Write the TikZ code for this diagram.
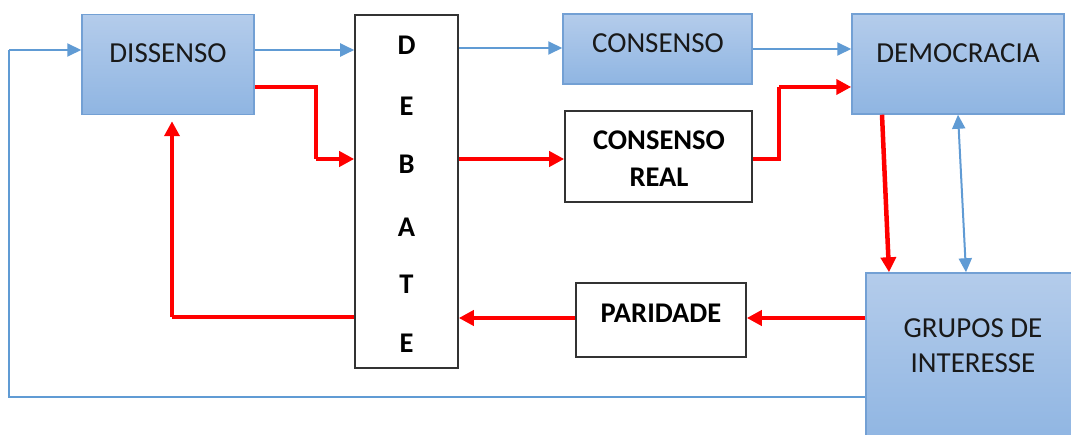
\documentclass[tikz,border=0pt]{standalone}
\usepackage{fontspec}
\setmainfont{Carlito}
\usetikzlibrary{arrows.meta}
\definecolor{bluebox}{RGB}{115,160,212}
\definecolor{bluetop}{RGB}{180,204,235}
\definecolor{bluebot}{RGB}{143,181,226}
\definecolor{blueline}{RGB}{96,155,212}
\definecolor{redline}{RGB}{255,0,0}
\tikzset{
  bluenode/.style={rectangle, draw=bluebox, line width=1.5pt, top color=bluetop, bottom color=bluebot, inner sep=0pt},
  whitenode/.style={rectangle, draw=black!80, line width=1.6pt, fill=white, inner sep=0pt},
  txt/.style={font=\fontsize{29}{35}\selectfont, text=black!90, inner sep=0pt, align=center},
  btxt/.style={font=\fontsize{28.5}{37}\selectfont\bfseries, text=black, inner sep=0pt, align=center},
  bluearrow/.style={draw=blueline, line width=2pt, -{Triangle[length=14pt,width=13pt]}},
  bluedouble/.style={draw=blueline, line width=2pt, {Triangle[length=14pt,width=13pt]}-{Triangle[length=14pt,width=13pt]}},
  redarrow/.style={draw=redline, line width=4.5pt, -{Triangle[length=15pt,width=15pt]}},
  redline/.style={draw=redline, line width=4.5pt},
  blueloop/.style={draw=blueline, line width=2pt}
}
\begin{document}
\begin{tikzpicture}[x=1pt,y=-1pt]
\clip (0,0) rectangle (1071,435);
\fill[white] (0,0) rectangle (1071,435);
% boxes
\node[bluenode, minimum width=172pt, minimum height=100pt] (dis) at (168,64.5) {};
\node[whitenode, minimum width=103pt, minimum height=353pt] (deb) at (406.5,191.5) {};
\node[bluenode, minimum width=189pt, minimum height=70pt] (con) at (657.5,49) {};
\node[whitenode, minimum width=187pt, minimum height=91pt] (cr) at (658.5,156.5) {};
\node[bluenode, minimum width=212pt, minimum height=100pt] (dem) at (958,64) {};
\node[whitenode, minimum width=170pt, minimum height=74pt] (par) at (661,320) {};
\node[bluenode, minimum width=216pt, minimum height=172pt] (gru) at (974,359) {};
% texts
\node[txt] (tdis) at (168,53) {DISSENSO};
\node[txt] (tcon) at (658,43) {CONSENSO};
\node[txt] (tdem) at (958,53) {DEMOCRACIA};
\node[btxt] (tcr) at (659,159) {CONSENSO\\REAL};
\node[btxt] (tpar) at (661,313) {PARIDADE};
\node[txt, font=\fontsize{29}{35}\selectfont] (tgru) at (973,345.5) {GRUPOS DE\\INTERESSE};
\node[btxt] (d1) at (406.5,45) {D};
\node[btxt] (d2) at (406.5,106) {E};
\node[btxt] (d3) at (406.5,164) {B};
\node[btxt] (d4) at (406.5,227) {A};
\node[btxt] (d5) at (406.5,284) {T};
\node[btxt] (d6) at (406.5,343) {E};
% coordinates
\coordinate (lt) at (9,50);
\coordinate (lb) at (9,397);
\coordinate (r1) at (316,87);
\coordinate (r2) at (316,159);
\coordinate (r3) at (779,159);
\coordinate (r4) at (779,87);
\coordinate (r5) at (172,317);
% blue connectors
\draw[blueloop] (gru.west |- lb) -- (lb) -- (lt);
\draw[bluearrow] (lt) -- (dis.west |- lt);
\draw[bluearrow] (dis.east |- 0,50) -- (deb.west |- 0,50);
\draw[bluearrow] (deb.east |- 0,48) -- (con.west |- 0,48);
\draw[bluearrow] (con.east |- 0,49) -- (dem.west |- 0,49);
\draw[bluedouble] (dem.south -| 958,0) -- (gru.north -| 966,0);
% red connectors
\draw[redline] (dis.east |- r1) -- (r1) -- (r2);
\draw[redarrow] (r2) -- (deb.west |- r2);
\draw[redarrow] (deb.east |- 0,159) -- (cr.west |- 0,159);
\draw[redline] (cr.east |- r3) -- (r3) -- (r4);
\draw[redarrow] (r4) -- (dem.west |- r4);
\draw[redarrow] (dem.south -| 882,0) -- (gru.north -| 889,0);
\draw[redarrow] (gru.west |- 0,318) -- (par.east |- 0,318);
\draw[redarrow] (par.west |- 0,318) -- (deb.east |- 0,318);
\draw[redline] (deb.west |- r5) -- (r5);
\draw[redarrow, shorten >=6pt] (r5) -- (dis.south -| r5);
\end{tikzpicture}
\end{document}
